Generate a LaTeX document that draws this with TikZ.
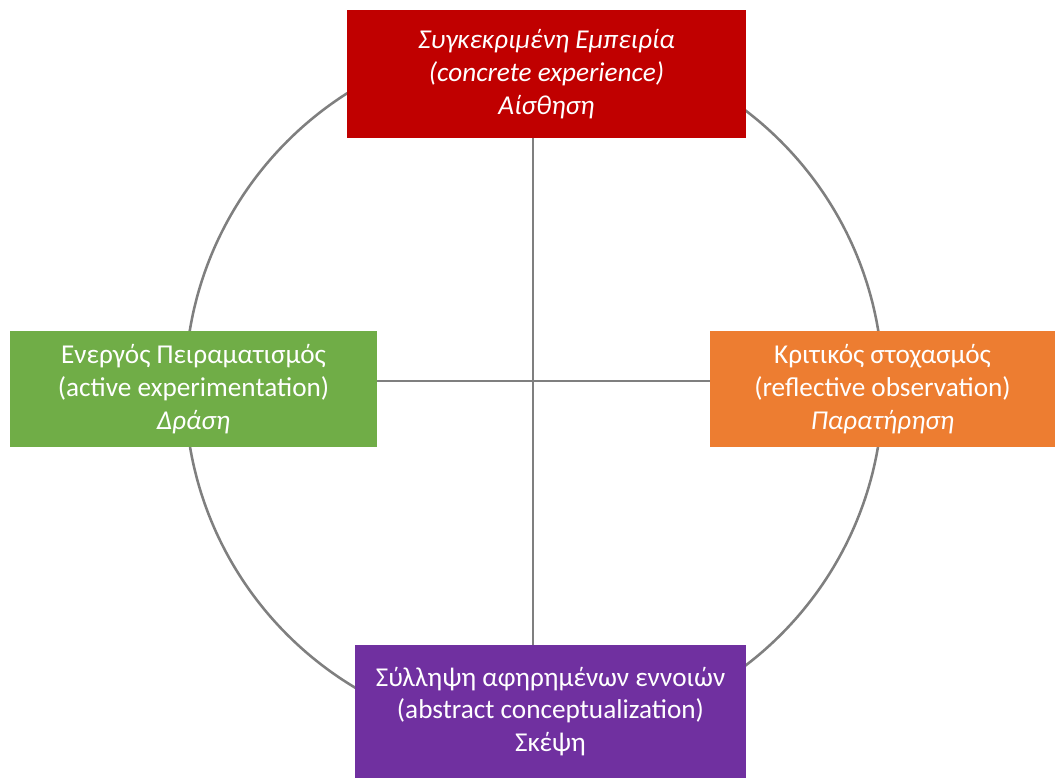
\documentclass[tikz,border=0pt]{standalone}
\usepackage{fontspec}
\setmainfont{Carlito}
\usetikzlibrary{positioning}

\definecolor{ceRed}{HTML}{C00000}
\definecolor{aeGreen}{HTML}{70AD47}
\definecolor{roOrange}{HTML}{ED7D31}
\definecolor{acPurple}{HTML}{7030A0}
\definecolor{cycleGray}{HTML}{7F7F7F}

\begin{document}
\begin{tikzpicture}[x=0.02cm, y=-0.02cm,
    stage/.style={rectangle, inner sep=0pt, align=center, text=white,
        font=\fontsize{15.5}{18.6}\selectfont},
    cycle line/.style={draw=cycleGray, line width=1.45pt}]

    % constants
    \def\cx{534}
    \def\cy{388}

    \useasboundingbox (0,0) rectangle (1055,778);

    % the cycle behind the boxes
    \draw [cycle line] (\cx,\cy) circle [radius=6.98cm];

    \coordinate (cross) at (533,381);

    \node [stage, fill=ceRed, minimum width=7.98cm, minimum height=2.56cm] (concrete) at (546.5,74)
        {\itshape Συγκεκριμένη Εμπειρία\\ \itshape (concrete experience)\\ \itshape Αίσθηση};
    \node [stage, fill=aeGreen, minimum width=7.34cm, minimum height=2.32cm] (active) at (193.5,389)
        {Ενεργός Πειραματισμός\\ (active experimentation)\\ \itshape Δράση};
    \node [stage, fill=roOrange, minimum width=6.9cm, minimum height=2.32cm] (reflective) at (882.5,389)
        {Κριτικός στοχασμός\\ (reflective observation)\\ \itshape Παρατήρηση};
    \node [stage, fill=acPurple, minimum width=7.82cm, minimum height=2.66cm] (abstract) at (550.5,711.5)
        {Σύλληψη αφηρημένων εννοιών\\ (abstract conceptualization)\\ Σκέψη};

    % axes
    \draw [cycle line] (concrete.south -| cross) -- (abstract.north -| cross);
    \draw [cycle line] (active.east |- cross) -- (reflective.west |- cross);

\end{tikzpicture}
\end{document}
